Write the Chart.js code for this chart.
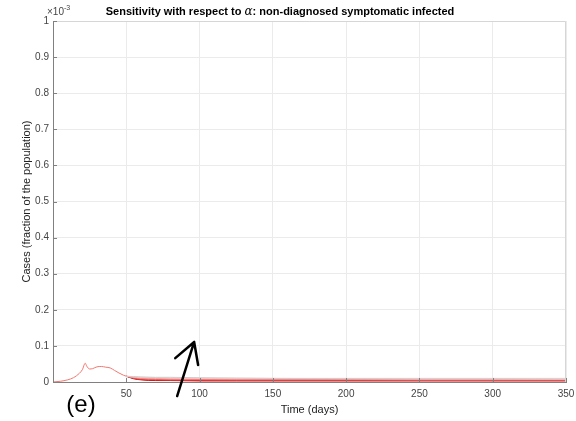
<!DOCTYPE html>
<html>
<head>
<meta charset="utf-8">
<script src="https://cdn.jsdelivr.net/npm/chart.js@4/dist/chart.umd.min.js"></script>
<style>
  html, body { margin: 0; padding: 0; background: #fff; }
  #wrap { width: 576px; height: 421px; }
</style>
</head>
<body>
<div id="wrap"><canvas id="chart" width="576" height="421"></canvas></div>
<script>
// values are in units of 1e-3 (axis shows x10^-3)
const earlyDays = [0, 5, 10, 14, 18, 20, 22, 23, 25, 27, 30, 33, 36, 39, 42, 45, 48, 50];
const earlyCases = [0, 0.002, 0.006, 0.012, 0.024, 0.034, 0.052, 0.044, 0.036, 0.037, 0.042, 0.043, 0.041, 0.039, 0.032, 0.025, 0.019, 0.016];

const lateDays = [50, 55, 60, 70, 80, 100, 125, 150, 200, 250, 300, 350];
const grayCases = [0.016, 0.015, 0.014, 0.013, 0.013, 0.012, 0.011, 0.010, 0.009, 0.008, 0.008, 0.007];
const red1Cases = [0.016, 0.014, 0.013, 0.012, 0.011, 0.010, 0.010, 0.010, 0.010, 0.010, 0.010, 0.010];
const red2Cases = [0.016, 0.013, 0.011, 0.010, 0.009, 0.009, 0.008, 0.008, 0.008, 0.008, 0.008, 0.008];
const red3Cases = [0.016, 0.012, 0.010, 0.008, 0.008, 0.007, 0.007, 0.007, 0.007, 0.006, 0.006, 0.006];
const red4Cases = [0.016, 0.011, 0.008, 0.007, 0.006, 0.006, 0.005, 0.005, 0.005, 0.005, 0.005, 0.005];
const red5Cases = [0.016, 0.010, 0.007, 0.005, 0.005, 0.004, 0.004, 0.004, 0.004, 0.004, 0.004, 0.004];
const red6Cases = [0.016, 0.009, 0.006, 0.004, 0.004, 0.003, 0.003, 0.003, 0.003, 0.003, 0.003, 0.003];

const xTicks = [0, 50, 100, 150, 200, 250, 300, 350];
const yTicks = [0, 0.1, 0.2, 0.3, 0.4, 0.5, 0.6, 0.7, 0.8, 0.9, 1];

// arrow annotation, in data coordinates [day, value]
const arrowTail = [84.7, -0.039];
const arrowHead = [96.3, 0.111];
const arrowWingL = [83.4, 0.066];
const arrowWingR = [99.0, 0.047];

const FONT = "'Liberation Sans', Arial, sans-serif";

function pts(xs, ys) {
  return xs.map((x, i) => ({ x: x, y: ys[i] }));
}

function line(data, color) {
  return {
    data: data,
    borderColor: color,
    borderWidth: 1,
    pointRadius: 0,
    fill: false,
    cubicInterpolationMode: 'monotone'
  };
}

const extras = {
  id: 'extras',
  afterDraw(chart) {
    const ctx = chart.ctx;
    const a = chart.chartArea;
    const xs = chart.scales.x, ys = chart.scales.y;
    ctx.save();

    // box top/right
    ctx.strokeStyle = '#d6d6d6';
    ctx.lineWidth = 1;
    ctx.beginPath();
    ctx.moveTo(a.left, a.top + 0.5);
    ctx.lineTo(a.right - 0.5, a.top + 0.5);
    ctx.lineTo(a.right - 0.5, a.bottom);
    ctx.stroke();

    // inward ticks
    ctx.strokeStyle = '#808080';
    ctx.beginPath();
    yTicks.forEach(v => {
      const p = Math.round(ys.getPixelForValue(v)) + 0.5;
      ctx.moveTo(a.left, p); ctx.lineTo(a.left + 4, p);
    });
    xTicks.forEach(v => {
      const p = Math.round(xs.getPixelForValue(v)) + 0.5;
      ctx.moveTo(p, a.bottom); ctx.lineTo(p, a.bottom - 4);
    });
    ctx.stroke();

    // title
    ctx.fillStyle = '#000';
    ctx.textBaseline = 'middle';
    ctx.textAlign = 'left';
    const t1 = 'Sensitivity with respect to ';
    const t2 = 'α';
    const t3 = ': non-diagnosed symptomatic infected';
    ctx.font = 'bold 11px ' + FONT;
    const w1 = ctx.measureText(t1).width;
    const w3 = ctx.measureText(t3).width;
    ctx.font = 'italic 12px "DejaVu Serif", serif';
    const w2 = ctx.measureText(t2).width;
    let tx = 280 - (w1 + w2 + w3) / 2;
    ctx.font = 'bold 11px ' + FONT;
    ctx.fillText(t1, tx, 12);
    ctx.font = 'italic 12px "DejaVu Serif", serif';
    ctx.fillText(t2, tx + w1, 12);
    ctx.font = 'bold 11px ' + FONT;
    ctx.fillText(t3, tx + w1 + w2, 12);

    // exponent label
    ctx.fillStyle = '#444';
    ctx.font = '10px ' + FONT;
    ctx.fillText('×10', a.left - 6, 12);
    const we = ctx.measureText('×10').width;
    ctx.font = '7px ' + FONT;
    ctx.fillText('-3', a.left - 6 + we, 8);

    // (e) label
    ctx.fillStyle = '#000';
    ctx.font = '24px ' + FONT;
    ctx.textAlign = 'center';
    ctx.fillText('(e)', 81, 405);

    // arrow
    const px = p => [xs.getPixelForValue(p[0]), ys.getPixelForValue(p[1])];
    const tl = px(arrowTail), hd = px(arrowHead), wl = px(arrowWingL), wr = px(arrowWingR);
    ctx.strokeStyle = '#000';
    ctx.lineWidth = 2.5;
    ctx.lineCap = 'round';
    ctx.lineJoin = 'round';
    ctx.beginPath();
    ctx.moveTo(tl[0], tl[1]); ctx.lineTo(hd[0], hd[1]);
    ctx.moveTo(wl[0], wl[1]); ctx.lineTo(hd[0], hd[1]); ctx.lineTo(wr[0], wr[1]);
    ctx.stroke();
    ctx.restore();
  }
};

new Chart(document.getElementById('chart'), {
  type: 'line',
  data: {
    datasets: [
      line(pts(lateDays, grayCases), 'rgb(205,205,205)'),
      line(pts(lateDays, red1Cases), 'rgb(250,195,195)'),
      line(pts(lateDays, red2Cases), 'rgb(246,155,155)'),
      line(pts(lateDays, red3Cases), 'rgb(240,115,115)'),
      line(pts(lateDays, red4Cases), 'rgb(230,75,75)'),
      line(pts(lateDays, red5Cases), 'rgb(215,35,35)'),
      line(pts(lateDays, red6Cases), 'rgb(195,0,0)'),
      line(pts(earlyDays, earlyCases), 'rgb(242,120,112)')
    ]
  },
  options: {
    responsive: false,
    animation: false,
    layout: { padding: { top: 21, right: 0, left: 20, bottom: 0 } },
    plugins: { legend: { display: false }, tooltip: { enabled: false }, title: { display: false } },
    scales: {
      x: {
        type: 'linear',
        min: 0, max: 350,
        afterBuildTicks: s => { s.ticks = xTicks.map(v => ({ value: v })); },
        afterFit: s => { s.height = 39; s.paddingRight = 10; },
        grid: { color: '#ebebeb', drawTicks: false },
        border: { color: '#808080' },
        ticks: {
          color: '#444', font: { family: FONT, size: 10 }, padding: 6,
          maxRotation: 0,
          callback: v => (v === 0 ? '' : String(v))
        },
        title: { display: true, text: 'Time (days)', color: '#222', font: { family: FONT, size: 11 }, padding: { top: 0, bottom: 4 } }
      },
      y: {
        min: 0, max: 1,
        afterBuildTicks: s => { s.ticks = yTicks.map(v => ({ value: v })); },
        afterFit: s => { s.width = 33; },
        grid: { color: '#ebebeb', drawTicks: false },
        border: { color: '#808080' },
        ticks: {
          color: '#444', font: { family: FONT, size: 10 }, padding: 4,
          callback: v => String(Math.round(v * 10) / 10)
        },
        title: { display: true, text: 'Cases (fraction of the population)', color: '#222', font: { family: FONT, size: 11 }, padding: { top: 0, bottom: 2 } }
      }
    }
  },
  plugins: [extras]
});
</script>
</body>
</html>
